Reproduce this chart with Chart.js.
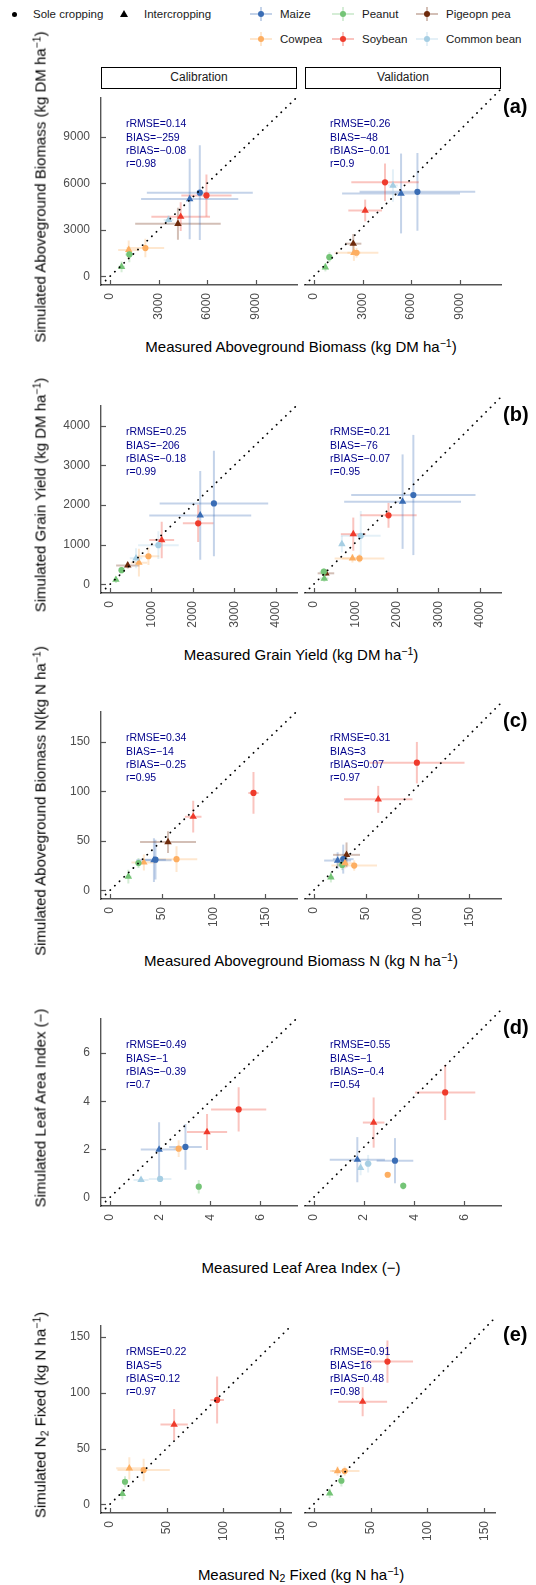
<!DOCTYPE html>
<html>
<head>
<meta charset="utf-8">
<title>Simulated vs measured</title>
<script src="https://cdn.jsdelivr.net/npm/chart.js@4.4.1/dist/chart.umd.min.js"></script>
<style>
  html, body { margin: 0; padding: 0; background: #fff; }
  #page { position: relative; width: 536px; height: 1585px; overflow: hidden;
          font-family: "Liberation Sans", Arial, Helvetica, sans-serif; color: #000; }
  #page canvas { position: absolute; }
  .abs { position: absolute; }
  .key-text { position: absolute; font-size: 11.5px; white-space: nowrap; transform: translateY(-50%); color: #1a1a1a; }
  .strip { position: absolute; box-sizing: border-box; border: 1.6px solid #000; background: #fff;
           font-size: 12px; text-align: center; color: #1a1a1a; }
  .xtitle, .ytitle { position: absolute; font-size: 15px; white-space: nowrap; color: #000; }
  .xtitle { transform: translate(-50%, -50%); }
  .ytitle { transform: translate(-50%, -50%) rotate(-90deg); }
  .tag { position: absolute; font-size: 20px; font-weight: bold; transform: translateY(-50%); }
  .stats { position: absolute; font-size: 10.5px; line-height: 13.1px; color: #00008b; white-space: nowrap; }
  sup { font-size: 70%; line-height: 0; vertical-align: 0.45em; }
  sub { font-size: 70%; line-height: 0; vertical-align: -0.25em; }
</style>
</head>
<body>
<div id="page"></div>
<script>
const CROPS = ['Maize', 'Peanut', 'Pigeopn pea', 'Cowpea', 'Soybean', 'Common bean'];

// rows: [crop, system (S = sole, I = intercrop), measured, simulated, measured sd, simulated sd]
const BIOMASS_CAL = [
  ['Maize', 'S', 5550, 5400, 3270, 3050],
  ['Maize', 'I', 4925, 4990, 3000, 2600],
  ['Soybean', 'S', 5960, 5220, 1550, 1350],
  ['Soybean', 'I', 4370, 3850, 1810, 925],
  ['Common bean', 'I', 3620, 3640, 300, 300],
  ['Pigeopn pea', 'I', 4200, 3390, 2640, 1030],
  ['Cowpea', 'S', 2190, 1830, 1160, 600],
  ['Cowpea', 'I', 1160, 1710, 650, 600],
  ['Peanut', 'S', 1200, 1420, 250, 500],
  ['Peanut', 'I', 720, 620, 200, 350]
];
const BIOMASS_VAL = [
  ['Soybean', 'S', 4390, 5790, 2080, 1160],
  ['Common bean', 'I', 4880, 5590, 300, 1000],
  ['Maize', 'I', 5380, 5100, 3640, 2465],
  ['Maize', 'S', 6390, 5200, 3570, 2400],
  ['Soybean', 'I', 3165, 4050, 1040, 670],
  ['Pigeopn pea', 'I', 2430, 2000, 500, 600],
  ['Cowpea', 'I', 2470, 1440, 400, 500],
  ['Cowpea', 'S', 2630, 1440, 1350, 300],
  ['Peanut', 'S', 955, 1170, 200, 300],
  ['Peanut', 'I', 710, 540, 150, 250]
];
const YIELD_CAL = [
  ['Maize', 'S', 2510, 2040, 1310, 1330],
  ['Maize', 'I', 2180, 1740, 1230, 1120],
  ['Soybean', 'S', 2130, 1540, 370, 470],
  ['Soybean', 'I', 1250, 1120, 300, 460],
  ['Common bean', 'S', 1170, 990, 490, 350],
  ['Cowpea', 'S', 930, 710, 260, 220],
  ['Cowpea', 'I', 700, 550, 200, 350],
  ['Common bean', 'I', 630, 660, 150, 250],
  ['Pigeopn pea', 'I', 430, 480, 280, 80],
  ['Peanut', 'S', 280, 360, 60, 80],
  ['Peanut', 'I', 145, 120, 60, 80]
];
const YIELD_VAL = [
  ['Maize', 'S', 2400, 2150, 1500, 1450],
  ['Maize', 'I', 2140, 1990, 1410, 1140],
  ['Soybean', 'S', 1800, 1660, 680, 300],
  ['Soybean', 'I', 950, 1205, 300, 400],
  ['Common bean', 'S', 1130, 1165, 480, 600],
  ['Common bean', 'I', 675, 965, 60, 200],
  ['Cowpea', 'I', 930, 620, 250, 100],
  ['Cowpea', 'S', 1100, 620, 600, 100],
  ['Pigeopn pea', 'I', 290, 260, 200, 60],
  ['Peanut', 'S', 240, 300, 100, 80],
  ['Peanut', 'I', 250, 135, 100, 80]
];
const BIOMASS_N_CAL = [
  ['Soybean', 'S', 138.6, 98.3, 5, 21],
  ['Soybean', 'I', 80.4, 74.3, 8, 16],
  ['Pigeopn pea', 'I', 56.1, 48.7, 27, 11],
  ['Maize', 'I', 42.5, 30.5, 17, 22],
  ['Maize', 'S', 44, 31, 10, 20],
  ['Cowpea', 'S', 64.3, 31.5, 20, 13],
  ['Cowpea', 'I', 32.8, 28.2, 12, 8],
  ['Peanut', 'S', 27.6, 27.6, 3, 5],
  ['Peanut', 'I', 17.8, 13.9, 3, 7]
];
const BIOMASS_N_VAL = [
  ['Soybean', 'S', 99.4, 123, 46, 20],
  ['Soybean', 'I', 62.1, 87.6, 33, 13],
  ['Pigeopn pea', 'I', 31.5, 34, 13, 12],
  ['Maize', 'I', 22.9, 28.5, 13, 8],
  ['Maize', 'S', 28.3, 29.9, 10, 14],
  ['Peanut', 'S', 27.3, 24.3, 5, 5],
  ['Cowpea', 'S', 38.9, 23.7, 22, 5],
  ['Cowpea', 'I', 30, 26, 8, 5],
  ['Peanut', 'I', 16.4, 12.4, 3, 5]
];
const LAI_CAL = [
  ['Soybean', 'S', 5.13, 3.66, 1.1, 0.92],
  ['Soybean', 'I', 3.87, 2.72, 0.8, 0.75],
  ['Maize', 'S', 3.01, 2.10, 0.65, 0.95],
  ['Cowpea', 'S', 2.74, 2.03, 0.2, 0.35],
  ['Maize', 'I', 1.96, 1.99, 0.73, 1.14],
  ['Common bean', 'S', 2.0, 0.77, 0.45, 0.1],
  ['Common bean', 'I', 1.24, 0.73, 0.3, 0.1],
  ['Peanut', 'S', 3.54, 0.45, 0.1, 0.28]
];
const LAI_VAL = [
  ['Soybean', 'S', 5.23, 4.17, 1.2, 1.1],
  ['Soybean', 'I', 2.38, 2.97, 0.43, 1.0],
  ['Maize', 'I', 1.73, 1.49, 1.1, 0.9],
  ['Maize', 'S', 3.23, 1.45, 0.73, 0.9],
  ['Common bean', 'S', 2.16, 1.33, 0.15, 0.35],
  ['Common bean', 'I', 1.86, 1.17, 0.1, 0.3],
  ['Cowpea', 'S', 2.94, 0.89, 0.1, 0.1],
  ['Peanut', 'S', 3.56, 0.45, 0.1, 0.15]
];
const NFIX_CAL = [
  ['Soybean', 'S', 94.5, 93.4, 6, 21],
  ['Soybean', 'I', 56.7, 71.4, 12, 14],
  ['Cowpea', 'I', 17.3, 32.3, 11.5, 10],
  ['Cowpea', 'S', 29.9, 30.8, 23, 10],
  ['Peanut', 'S', 13.5, 20.3, 2, 5],
  ['Peanut', 'I', 11.2, 9.4, 2, 5]
];
const NFIX_VAL = [
  ['Soybean', 'S', 64.9, 122, 22.5, 18],
  ['Soybean', 'I', 43.1, 87.7, 21.5, 12.5],
  ['Cowpea', 'S', 27.3, 28.3, 13, 4],
  ['Cowpea', 'I', 21, 28.3, 5, 4],
  ['Peanut', 'S', 24.4, 20, 2, 5],
  ['Peanut', 'I', 14.1, 9.2, 2, 4]
];

// goodness-of-fit lines, calibration then validation
const BIOMASS_STATS = [['rRMSE=0.14', 'BIAS=\u2212259', 'rBIAS=\u22120.08', 'r=0.98'], ['rRMSE=0.26', 'BIAS=\u221248', 'rBIAS=\u22120.01', 'r=0.9']];
const YIELD_STATS = [['rRMSE=0.25', 'BIAS=\u2212206', 'rBIAS=\u22120.18', 'r=0.99'], ['rRMSE=0.21', 'BIAS=\u221276', 'rBIAS=\u22120.07', 'r=0.95']];
const BIOMASS_N_STATS = [['rRMSE=0.34', 'BIAS=\u221214', 'rBIAS=\u22120.25', 'r=0.95'], ['rRMSE=0.31', 'BIAS=3', 'rBIAS=0.07', 'r=0.97']];
const LAI_STATS = [['rRMSE=0.49', 'BIAS=\u22121', 'rBIAS=\u22120.39', 'r=0.7'], ['rRMSE=0.55', 'BIAS=\u22121', 'rBIAS=\u22120.4', 'r=0.54']];
const NFIX_STATS = [['rRMSE=0.22', 'BIAS=5', 'rBIAS=0.12', 'r=0.97'], ['rRMSE=0.91', 'BIAS=16', 'rBIAS=0.48', 'r=0.98']];

// axis limits (same on x and y) and tick values
const BIOMASS_LIM = [-550, 11550];
const YIELD_LIM = [-215, 4515];
const BIOMASS_N_LIM = [-8.6, 180.6];
const LAI_LIM = [-0.355, 7.455];
const NFIX_LIM = [-7.6, 160.2];
const BIOMASS_TICKS = [0, 3000, 6000, 9000];
const YIELD_TICKS = [0, 1000, 2000, 3000, 4000];
const BIOMASS_N_TICKS = [0, 50, 100, 150];
const LAI_TICKS = [0, 2, 4, 6];
const NFIX_TICKS = [0, 50, 100, 150];

const CROP_COLORS = {
  'Maize': '#3a6db5',
  'Peanut': '#74c476',
  'Pigeopn pea': '#6e2b0c',
  'Cowpea': '#fdae61',
  'Soybean': '#ef3b2c',
  'Common bean': '#a6cee3'
};
const AXIS_COLOR = '#555555';
const TICK_TEXT = '#4d4d4d';
const FONT = '"Liberation Sans", Arial, sans-serif';

const ROWS = [
  { tag: '(a)', top: 89, lim: BIOMASS_LIM, ticks: BIOMASS_TICKS, cal: BIOMASS_CAL, val: BIOMASS_VAL, stats: BIOMASS_STATS,
    xTitle: 'Measured Aboveground Biomass (kg DM ha<sup>\u22121</sup>)',
    yTitle: 'Simulated Aboveground Biomass (kg DM ha<sup>\u22121</sup>)' },
  { tag: '(b)', top: 397, lim: YIELD_LIM, ticks: YIELD_TICKS, cal: YIELD_CAL, val: YIELD_VAL, stats: YIELD_STATS,
    xTitle: 'Measured Grain Yield (kg DM ha<sup>\u22121</sup>)',
    yTitle: 'Simulated Grain Yield (kg DM ha<sup>\u22121</sup>)' },
  { tag: '(c)', top: 703, lim: BIOMASS_N_LIM, ticks: BIOMASS_N_TICKS, cal: BIOMASS_N_CAL, val: BIOMASS_N_VAL, stats: BIOMASS_N_STATS,
    xTitle: 'Measured Aboveground Biomass N (kg N ha<sup>\u22121</sup>)',
    yTitle: 'Simulated Aboveground Biomass N(kg N ha<sup>\u22121</sup>)' },
  { tag: '(d)', top: 1010, lim: LAI_LIM, ticks: LAI_TICKS, cal: LAI_CAL, val: LAI_VAL, stats: LAI_STATS,
    xTitle: 'Measured Leaf Area Index (\u2212)',
    yTitle: 'Simulated Leaf Area Index (\u2212)' },
  { tag: '(e)', top: 1317, lim: NFIX_LIM, ticks: NFIX_TICKS, cal: NFIX_CAL, val: NFIX_VAL, stats: NFIX_STATS,
    xTitle: 'Measured N<sub>2</sub> Fixed (kg N ha<sup>\u22121</sup>)',
    yTitle: 'Simulated N<sub>2</sub> Fixed (kg N ha<sup>\u22121</sup>)' }
];

const PANEL = 196;
const CAL_LEFT = 101, VAL_LEFT = 305;
const page = document.getElementById('page');

function fade(hex, a) {
  const n = parseInt(hex.slice(1), 16);
  return 'rgba(' + (n >> 16) + ',' + ((n >> 8) & 255) + ',' + (n & 255) + ',' + (a || 0.3) + ')';
}

function el(cls, html, css) {
  const d = document.createElement('div');
  if (cls) d.className = cls;
  d.innerHTML = html;
  Object.assign(d.style, css);
  page.appendChild(d);
  return d;
}

// small tick marks pointing into the panel
const inwardTicks = {
  id: 'inwardTicks',
  afterDraw(chart) {
    const ctx = chart.ctx, area = chart.chartArea;
    ctx.save();
    ctx.strokeStyle = AXIS_COLOR;
    ctx.lineWidth = 1.2;
    const xs = chart.scales.x, ys = chart.scales.y;
    xs.ticks.forEach(t => {
      const p = Math.round(xs.getPixelForValue(t.value)) + 0.5;
      ctx.beginPath(); ctx.moveTo(p, area.bottom); ctx.lineTo(p, area.bottom - 5); ctx.stroke();
    });
    if (ys.options.display) {
      ys.ticks.forEach(t => {
        const p = Math.round(ys.getPixelForValue(t.value)) + 0.5;
        ctx.beginPath(); ctx.moveTo(area.left, p); ctx.lineTo(area.left + 5, p); ctx.stroke();
      });
    }
    ctx.restore();
  }
};

function makePanel(row, k) {
  const cal = k === 0;
  const rows = cal ? row.cal : row.val;
  const padL = cal ? 0 : 6, yW = cal ? 61 : 0;
  const areaLeft = cal ? CAL_LEFT : VAL_LEFT;
  const W = yW + padL + PANEL + 6, H = 10 + PANEL + 45;
  const cv = document.createElement('canvas');
  cv.width = W; cv.height = H;
  cv.style.left = (areaLeft - yW - padL) + 'px';
  cv.style.top = (row.top - 10) + 'px';
  cv.style.width = W + 'px';
  cv.style.height = H + 'px';
  page.appendChild(cv);

  const sets = [];
  // 1:1 line
  sets.push({
    data: [{ x: row.lim[0], y: row.lim[0] }, { x: row.lim[1], y: row.lim[1] }],
    showLine: true, borderColor: '#000', borderWidth: 1.8, borderDash: [0.1, 6.3],
    borderCapStyle: 'round', pointRadius: 0, order: 0
  });
  // error bars
  rows.forEach(r => {
    const [crop, , obs, sim, obsSd, simSd] = r;
    const c = fade(CROP_COLORS[crop]);
    sets.push({ data: [{ x: obs - obsSd, y: sim }, { x: obs + obsSd, y: sim }],
      showLine: true, borderColor: c, borderWidth: 2, pointRadius: 0, order: 2 });
    sets.push({ data: [{ x: obs, y: sim - simSd }, { x: obs, y: sim + simSd }],
      showLine: true, borderColor: c, borderWidth: 2, pointRadius: 0, order: 2 });
  });
  // means
  sets.push({
    data: rows.map(r => ({ x: r[2], y: r[3] })),
    pointStyle: rows.map(r => r[1] === 'S' ? 'circle' : 'triangle'),
    pointRadius: rows.map(r => r[1] === 'S' ? 3.1 : 4.3),
    pointBackgroundColor: rows.map(r => CROP_COLORS[r[0]]),
    pointBorderWidth: 0, showLine: false, order: 1
  });

  const tickFont = { family: FONT, size: 12 };
  new Chart(cv, {
    type: 'scatter',
    data: { datasets: sets },
    options: {
      responsive: false, animation: false, devicePixelRatio: 1, events: [],
      layout: { autoPadding: false, padding: { left: padL, right: 6, top: 10, bottom: 0 } },
      plugins: { legend: { display: false }, tooltip: { enabled: false } },
      scales: {
        x: {
          type: 'linear', min: row.lim[0], max: row.lim[1], bounds: 'data',
          afterBuildTicks: s => { s.ticks = row.ticks.map(v => ({ value: v })); },
          afterFit: s => { s.height = 45; },
          grid: { drawOnChartArea: false, drawTicks: false },
          border: { display: true, color: AXIS_COLOR, width: 1.4 },
          ticks: { autoSkip: false, minRotation: 90, maxRotation: 90, padding: 8,
                   color: TICK_TEXT, font: tickFont, callback: v => String(v) }
        },
        y: {
          type: 'linear', display: cal, min: row.lim[0], max: row.lim[1], bounds: 'data',
          afterBuildTicks: s => { s.ticks = row.ticks.map(v => ({ value: v })); },
          afterFit: s => { if (cal) s.width = 61; },
          grid: { drawOnChartArea: false, drawTicks: false },
          border: { display: true, color: AXIS_COLOR, width: 1.4 },
          ticks: { autoSkip: false, padding: 11, color: TICK_TEXT, font: tickFont, callback: v => String(v) }
        }
      }
    },
    plugins: [inwardTicks]
  });

  el('stats', row.stats[k].join('<br>'), { left: (areaLeft + 25) + 'px', top: (row.top + 35 - 6.55) + 'px' });
}

// legend
el('abs', '', { left: '11.5px', top: '11.5px', width: '5px', height: '5px', borderRadius: '50%', background: '#000' });
el('key-text', 'Sole cropping', { left: '33px', top: '14px' });
el('abs', '', { left: '120px', top: '10px', width: '0', height: '0', borderLeft: '4px solid transparent',
  borderRight: '4px solid transparent', borderBottom: '7px solid #000' });
el('key-text', 'Intercropping', { left: '144px', top: '14px' });
const KEY_X = [261, 343, 427], KEY_Y = [14, 39];
CROPS.forEach((c, i) => {
  const cx = KEY_X[i % 3], cy = KEY_Y[Math.floor(i / 3)];
  const col = CROP_COLORS[c];
  el('abs', '', { left: (cx - 11) + 'px', top: (cy - 1) + 'px', width: '22px', height: '2px', background: fade(col) });
  el('abs', '', { left: (cx - 1) + 'px', top: (cy - 7) + 'px', width: '2px', height: '14px', background: fade(col) });
  el('abs', '', { left: (cx - 3) + 'px', top: (cy - 3) + 'px', width: '6px', height: '6px', borderRadius: '50%', background: col });
  el('key-text', c, { left: (cx + 19) + 'px', top: cy + 'px' });
});

// facet strips
el('strip', 'Calibration', { left: CAL_LEFT + 'px', top: '67px', width: PANEL + 'px', height: '22px', lineHeight: '19px' });
el('strip', 'Validation', { left: VAL_LEFT + 'px', top: '67px', width: PANEL + 'px', height: '22px', lineHeight: '19px' });

ROWS.forEach(row => {
  makePanel(row, 0);
  makePanel(row, 1);
  el('xtitle', row.xTitle, { left: '301px', top: (row.top + PANEL + 61) + 'px' });
  el('ytitle', row.yTitle, { left: '40px', top: (row.top + PANEL / 2) + 'px' });
  el('tag', row.tag, { left: '503px', top: (row.top + 17) + 'px' });
});
</script>
</body>
</html>
